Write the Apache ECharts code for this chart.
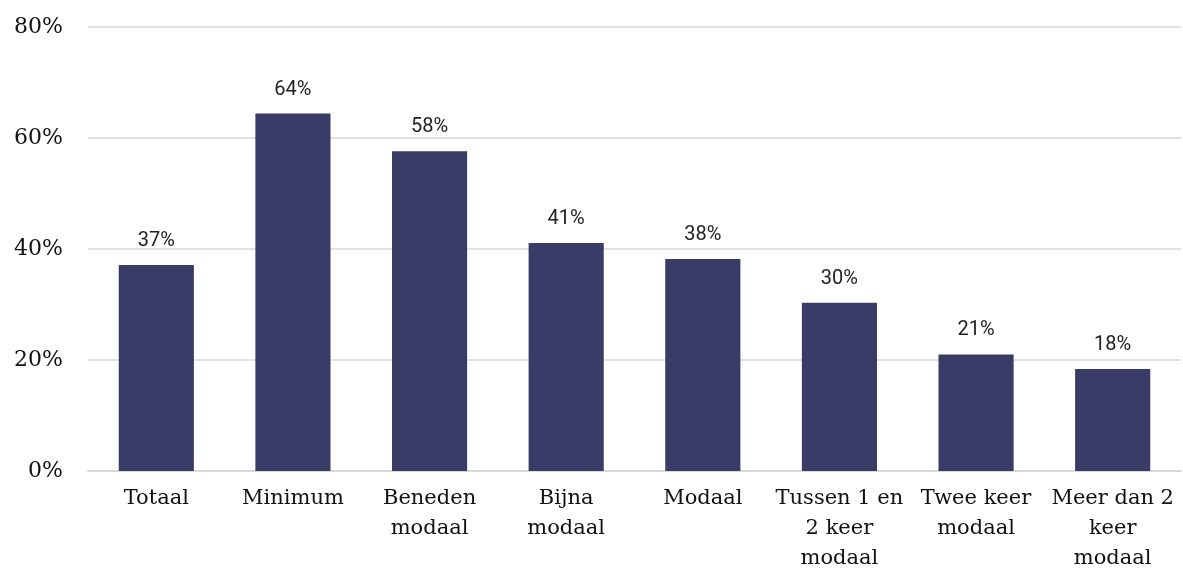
<!DOCTYPE html>
<html><head><meta charset="utf-8">
<script src="https://cdn.jsdelivr.net/npm/echarts@6/dist/echarts.min.js"></script>
<style>html,body{margin:0;padding:0;background:#fff}#c{width:1183px;height:574px}</style>
</head><body><div id="c"></div>
<script>
const categories = ["Totaal","Minimum","Beneden\nmodaal","Bijna\nmodaal","Modaal","Tussen 1 en\n2 keer\nmodaal","Twee keer\nmodaal","Meer dan 2\nkeer\nmodaal"];
const values = [37.1, 64.4, 57.6, 41.1, 38.2, 30.3, 21.0, 18.4];
const yTicks = [0, 20, 40, 60, 80];
const chart = echarts.init(document.getElementById('c'));
chart.setOption({
  animation:false,
  grid:{left:88,right:2,top:27,bottom:101},
  xAxis:{type:'category',data:categories,
    axisLine:{lineStyle:{color:'#d9d9d9',width:2}},axisTick:{show:false},
    axisLabel:{interval:0,color:'#111',fontFamily:'DejaVu Serif',fontSize:21,lineHeight:30,margin:13}},
  yAxis:{type:'value',min:yTicks[0],max:yTicks[yTicks.length-1],interval:20,
    axisLabel:{formatter:'{value}%',color:'#111',fontFamily:'DejaVu Serif',fontSize:22,margin:25},
    splitLine:{lineStyle:{color:'#d9d9d9',width:1.5}},axisLine:{show:false},axisTick:{show:false}},
  series:[{type:'bar',data:values,barWidth:'55%',itemStyle:{color:'#383c66'},
    label:{show:true,position:'top',distance:14,color:'#222',fontFamily:'Roboto',fontSize:20,
      formatter:p=>Math.round(p.value)+'%'}}]
});
</script></body></html>
